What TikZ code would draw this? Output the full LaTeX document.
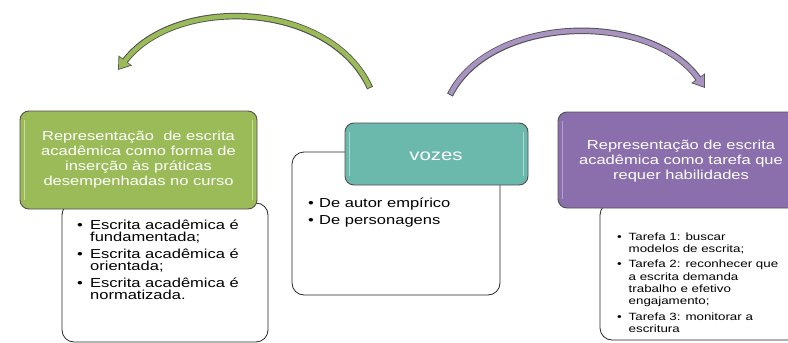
\documentclass[tikz,border=0pt]{standalone}
\usepackage{fontspec}
\setmainfont{Liberation Sans}[FakeStretch=1.27]
\usetikzlibrary{arrows.meta}
\definecolor{grn}{HTML}{9BBB59}
\definecolor{tea}{HTML}{6BB8AD}
\definecolor{pur}{HTML}{8B6FAC}
\definecolor{edgec}{HTML}{505050}
\newlength\bulw
\setlength\bulw{13pt}
\newcommand{\itm}[1]{\par\noindent\hangindent=\bulw\hangafter=1\makebox[\bulw][l]{\textbullet}#1}
\begin{document}
\begin{tikzpicture}[x=1pt,y=-1pt,
  wbox/.style={draw=black!85, line width=0.8pt, rounded corners=12pt, fill=white, inner sep=0pt},
  cbox/.style={draw=edgec, line width=0.9pt, rounded corners=9pt, inner sep=0pt},
  hl/.style={line width=1.3pt},
  ttl/.style={text=white, align=center, inner sep=0pt},
  lst/.style={inner sep=0pt, anchor=base west},
  arrout/.style={draw=edgec, line width=6.5pt},
]
\useasboundingbox (0,0) rectangle (788,343);
% white boxes
\node[wbox, minimum width=206pt, minimum height=139pt] (wl) at (165,272.5) {};
\node[wbox, minimum width=208pt, minimum height=143pt] (wm) at (396,223.5) {};
\node[wbox, minimum width=210pt, minimum height=137pt] (wr) at (705,271.5) {};
% coloured boxes
\node[cbox, fill=grn, minimum width=237pt, minimum height=98pt] (gl) at (138.5,160) {};
\node[cbox, fill=tea, minimum width=183pt, minimum height=62pt] (tm) at (436.5,154) {};
\node[cbox, fill=pur, minimum width=246pt, minimum height=96pt] (pr) at (681,160) {};
% highlights
\draw[hl, white!45!grn] ([xshift=5pt,yshift=-9pt]gl.north west) -- ([xshift=5pt,yshift=9pt]gl.south west);
\draw[hl, white!45!grn] ([xshift=-5pt,yshift=-9pt]gl.north east) -- ([xshift=-5pt,yshift=9pt]gl.south east);
\draw[hl, white!45!tea] ([xshift=5pt,yshift=-9pt]tm.north west) -- ([xshift=5pt,yshift=9pt]tm.south west);
\draw[hl, white!45!tea] ([xshift=-5pt,yshift=-9pt]tm.north east) -- ([xshift=-5pt,yshift=9pt]tm.south east);
\draw[hl, white!35!pur] ([xshift=5pt,yshift=-9pt]pr.north west) -- ([xshift=5pt,yshift=9pt]pr.south west);
% titles
\node[ttl, font=\fontsize{13}{15}\selectfont] (tgl) at (gl.center) {Representação\ \ de escrita\\acadêmica como forma de\\inserção às práticas\\desempenhadas no curso};
\node[ttl, font=\fontsize{16}{18}\selectfont] (ttm) at (436,156) {vozes};
\node[ttl, font=\fontsize{13}{15}\selectfont] (tpr) at (681,161) {Representação de escrita\\acadêmica como tarefa que\\requer habilidades};
% lists
\node[lst] (ll) at (77,229) {\parbox[t]{200pt}{\fontsize{13}{12.5}\selectfont\setlength\parskip{4.2pt}%
\itm{Escrita acadêmica é\\fundamentada;}
\itm{Escrita acadêmica é\\orientada;}
\itm{Escrita acadêmica é\\normatizada.}}};
\node[lst] (lm) at (308,207) {\parbox[t]{200pt}{\fontsize{13}{12.5}\selectfont\setlength\parskip{4.5pt}\setlength\bulw{11pt}%
\itm{De autor empírico}
\itm{De personagens}}};
\node[lst] (lr) at (617,240) {\parbox[t]{200pt}{\fontsize{10.5}{12.3}\selectfont\setlength\parskip{3.2pt}\setlength\bulw{11.5pt}%
\itm{Tarefa 1: buscar\\modelos de escrita;}
\itm{Tarefa 2: reconhecer que\\a escrita demanda\\trabalho e efetivo\\engajamento;}
\itm{Tarefa 3: monitorar a\\escritura}}};
% curved arrows
\coordinate (ga) at (370,88);
\coordinate (gb) at (118,70);
\coordinate (pa) at (450,95);
\coordinate (pb) at (705,88);
\draw[arrout, -{Triangle[length=12pt,width=16pt]}] (ga) .. controls (330,0) and (175,-5) .. (gb);
\draw[grn, line width=4.6pt, shorten <=0.9pt, shorten >=1.3pt, -{Triangle[length=10pt,width=13pt]}] (ga) .. controls (330,0) and (175,-5) .. (gb);
\draw[arrout, -{Triangle[length=12pt,width=16pt]}] (pa) .. controls (490,15) and (650,10) .. (pb);
\draw[pur!75!white, line width=4.6pt, shorten <=0.9pt, shorten >=1.3pt, -{Triangle[length=10pt,width=13pt]}] (pa) .. controls (490,15) and (650,10) .. (pb);
\end{tikzpicture}
\end{document}
